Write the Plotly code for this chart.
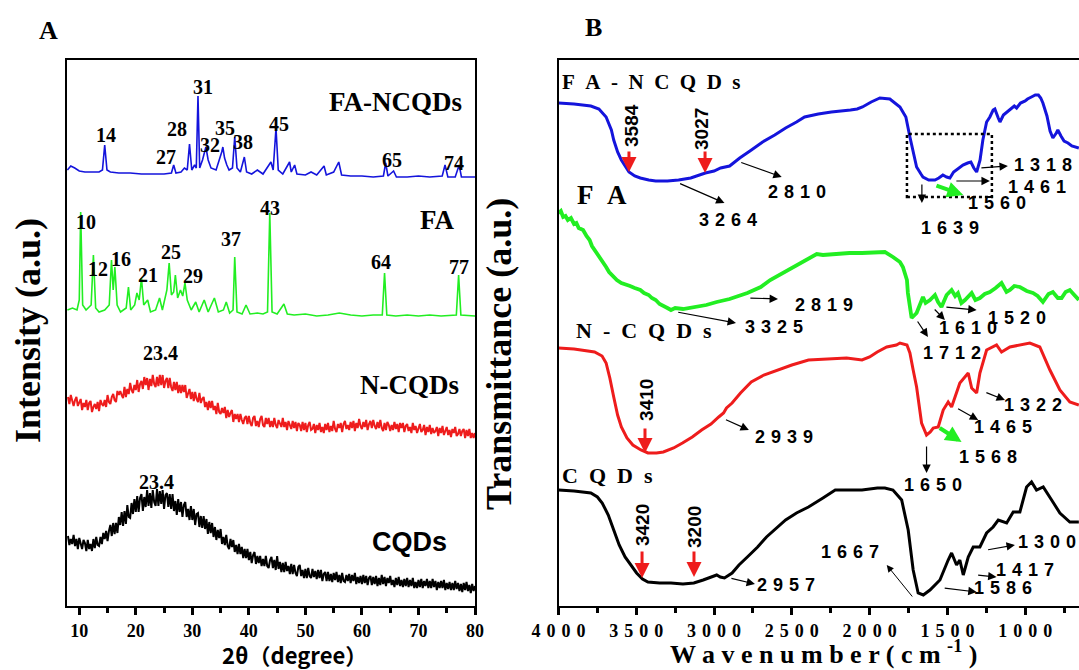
import plotly.graph_objects as go

SERIF = "Liberation Serif, Times New Roman, serif"
SANS = "Liberation Sans, Arial, sans-serif"
CJK = "Noto Sans CJK SC, sans-serif"
BLUE, GREEN, RED, BLACK = "#1414dc", "#22ee22", "#ee1c1c", "#000000"

# ---------------- Panel A : XRD (2theta, intensity a.u., stacked offsets) ----------------
fancqds_2theta = [7.9, 8.5, 9.2, 10, 11, 12, 13.5, 14.1, 14.5, 14.9, 15.5, 17, 19, 21, 23, 25, 26.3, 26.7, 27.1, 28,
                  28.6, 29.1, 29.5, 29.9, 30.4, 30.7, 31.0, 31.3, 31.8, 32.4, 32.8, 33.3, 34.2, 34.8, 35.2, 35.4, 35.7,
                  36.1, 36.5, 37.1, 37.5, 37.9, 38.5, 39.2, 39.6, 40.5, 41.5, 42.5, 43.9, 44.3, 44.8, 45.2, 46, 47.2,
                  47.5, 48.1, 48.5, 50, 51, 52, 53.3, 53.7, 55, 55.9, 56.4, 58, 60, 62, 63.8, 64.2, 64.6, 65.6, 66.1,
                  68, 70, 72, 74.2, 74.7, 75.2, 76.5, 77.2, 77.6, 80]
fancqds_int = [436, 440, 438, 435, 434, 434, 434, 436, 461, 436, 434, 433, 433, 432, 432, 432, 433, 441, 433, 434,
               438, 436, 462, 436, 441, 438, 510, 438, 446, 459, 446, 438, 436, 446, 454, 459, 448,
               441, 436, 438, 469, 438, 434, 449, 434, 432, 436, 432, 444, 436, 478, 436, 432, 444,
               434, 441, 432, 431, 434, 431, 440, 431, 434, 444, 431, 430, 430, 429, 430, 443, 430, 435, 429,
               429, 430, 429, 430, 441, 429, 429, 441, 429, 429]

fa_2theta = [7.9, 8.8, 9.6, 10.0, 10.25, 10.6, 11.2, 12.1, 12.5, 12.9, 13.5, 14.5, 15.3, 15.7, 16.0, 16.3, 16.7, 17.3,
             18.3, 18.7, 19.1, 19.8, 20.2, 20.6, 21.0, 21.4, 22.1, 22.6, 23.5, 24.2, 24.7, 25.5, 25.9, 26.3, 26.7,
             27.0, 27.4, 27.9, 28.3, 28.7, 29.1, 29.8, 30.6, 31.2, 32.1, 32.8, 33.9, 34.6, 35.5, 36.0, 36.6, 37.2,
             37.5, 37.9, 38.8, 39.5, 40.2, 41.5, 42.5, 43.3, 43.7, 44.1, 45, 46.2, 46.8, 48, 50, 52, 54, 56, 58, 60,
             62, 63.6, 64.0, 64.4, 66, 68, 70, 72, 74, 76.7, 77.1, 77.5, 80]
fa_int = [296, 298, 296, 306, 394, 301, 296, 301, 351, 298, 294, 296, 301, 346, 316, 339, 301, 294,
          298, 319, 296, 301, 313, 306, 328, 301, 306, 294, 296, 308, 296, 316, 343, 311, 314,
          331, 308, 316, 310, 323, 306, 296, 304, 294, 306, 294, 308, 294, 296, 304, 293, 296,
          349, 294, 292, 301, 292, 293, 292, 294, 393, 294, 292, 302, 292, 291, 292, 290, 291, 293, 291, 290,
          291, 291, 333, 291, 290, 291, 290, 291, 290, 291, 331, 291, 290]

# amorphous patterns, sampled every 0.25 degree from 8 to 80
amorph_2theta = [8 + 0.25 * i for i in range(289)]
ncqds_int = [209, 202, 211, 204, 200, 206, 209, 200, 203, 207, 196, 203, 199, 206, 196, 203,
             205, 194, 199, 202, 197, 204, 195, 206, 202, 200, 206, 199, 211, 204, 202, 209,
             212, 206, 204, 215, 211, 215, 211, 208, 219, 209, 217, 212, 223, 216, 213, 221,
             216, 226, 214, 222, 225, 217, 229, 221, 228, 216, 227, 220, 231, 222, 219, 229,
             220, 231, 221, 231, 218, 225, 228, 218, 228, 219, 215, 224, 216, 224, 213, 221,
             213, 221, 214, 221, 208, 214, 217, 207, 214, 205, 214, 207, 204, 213, 203, 207,
             209, 199, 204, 196, 205, 198, 205, 196, 200, 192, 203, 194, 192, 198, 193, 199,
             188, 196, 189, 193, 196, 184, 192, 187, 192, 184, 192, 186, 182, 188, 190, 182,
             190, 183, 180, 188, 190, 180, 185, 179, 187, 190, 181, 179, 188, 182, 188, 179,
             185, 179, 188, 181, 178, 186, 183, 179, 188, 179, 184, 176, 185, 180, 177, 185,
             178, 184, 175, 183, 181, 175, 184, 176, 183, 174, 181, 184, 176, 177, 182, 173,
             181, 176, 183, 174, 179, 173, 182, 176, 183, 174, 180, 175, 185, 177, 174, 182,
             178, 183, 174, 182, 185, 177, 181, 176, 184, 178, 185, 175, 183, 178, 187, 180,
             177, 184, 179, 186, 176, 182, 185, 178, 186, 180, 177, 184, 178, 186, 178, 175,
             183, 176, 184, 181, 175, 181, 176, 184, 177, 182, 174, 183, 178, 183, 174, 180,
             182, 175, 179, 173, 183, 176, 180, 173, 179, 182, 174, 176, 181, 171, 179, 174,
             181, 172, 178, 173, 175, 179, 170, 178, 173, 180, 171, 176, 179, 171, 176, 169,
             177, 173, 179, 170, 172, 177, 170, 175, 177, 168, 176, 170, 177, 168, 173, 168, 173]
cqds_int = [70, 61, 67, 62, 71, 60, 67, 57, 68, 61, 57, 66, 63, 55, 66, 57,
            62, 55, 67, 58, 69, 61, 60, 69, 62, 73, 67, 75, 65, 75, 81, 70,
            83, 72, 83, 73, 89, 81, 94, 80, 95, 82, 101, 89, 88, 103, 92, 107,
            94, 110, 94, 108, 112, 95, 109, 99, 116, 100, 113, 98, 116, 104, 100, 117,
            100, 115, 102, 116, 97, 111, 113, 99, 112, 97, 112, 95, 105, 91, 107, 94,
            104, 89, 101, 104, 89, 97, 86, 100, 86, 97, 81, 92, 93, 79, 90, 78,
            90, 77, 87, 72, 84, 73, 83, 69, 79, 66, 76, 68, 77, 62, 69, 61,
            71, 60, 57, 67, 59, 66, 54, 61, 52, 62, 52, 59, 48, 57, 48, 57,
            46, 54, 43, 51, 54, 42, 50, 43, 50, 40, 47, 40, 50, 40, 38, 46,
            49, 38, 46, 36, 50, 37, 44, 34, 43, 34, 44, 35, 40, 32, 42, 32,
            41, 33, 30, 39, 41, 30, 36, 28, 37, 28, 38, 30, 28, 37, 29, 35,
            27, 36, 28, 36, 25, 32, 34, 25, 34, 25, 32, 24, 33, 26, 34, 24,
            31, 23, 33, 25, 24, 31, 25, 32, 23, 31, 25, 33, 22, 29, 23, 30,
            22, 31, 23, 30, 21, 28, 30, 21, 29, 22, 30, 20, 28, 21, 31, 22,
            29, 20, 28, 23, 30, 21, 26, 19, 28, 21, 29, 20, 26, 19, 27, 20,
            28, 19, 26, 20, 28, 18, 24, 18, 26, 19, 27, 18, 25, 20, 27, 18,
            25, 18, 27, 19, 25, 16, 24, 18, 25, 18, 26, 16, 23, 17, 24, 16,
            23, 16, 25, 17, 23, 15, 22, 14, 23, 16, 24, 15, 21, 13, 22, 15, 20]

xrd_ticks = [10, 20, 30, 40, 50, 60, 70, 80]

# ---------------- Panel B : FTIR (wavenumber, transmittance a.u., stacked offsets) ----------------
fancqds_wn = [4000, 3900, 3792, 3740, 3694, 3660, 3645, 3620, 3596, 3570, 3547, 3510, 3474, 3420, 3375, 3300, 3228,
              3150, 3056, 3000, 2970, 2958, 2900, 2835, 2760, 2688, 2610, 2540, 2470, 2418, 2330, 2246, 2123, 2080,
              2046, 1990, 1934, 1870, 1805, 1767, 1741, 1715, 1698, 1670, 1657, 1620, 1580, 1555, 1529, 1505, 1484,
              1460, 1420, 1400, 1370, 1349, 1330, 1312, 1290, 1272, 1248, 1227, 1206, 1195, 1173, 1162, 1140, 1119,
              1100, 1070, 1055, 1030, 1000, 985, 960, 935, 915, 900, 886, 860, 840, 822, 800, 790, 770, 750, 725,
              700, 655]
fancqds_tr = [503, 502, 500, 497, 489, 476, 466, 454, 446, 439, 434, 430, 428, 426, 425, 425, 426,
              428, 433, 435, 437, 438, 440, 448, 456, 464, 471, 478, 484, 489, 492, 494, 496, 497,
              499, 504, 508, 507, 499, 489, 469, 449, 439, 432, 429, 426, 426, 428, 431, 429, 428,
              434, 439, 441, 443, 444, 438, 434, 446, 466, 484, 489, 496, 497, 488, 484, 491, 494,
              496, 500, 498, 503, 505, 507, 509, 511, 511, 508, 503, 490, 475, 468, 473, 476, 470, 465, 463,
              460, 458]

fa_wn = [4000, 3985, 3970, 3955, 3940, 3920, 3900, 3885, 3870, 3842, 3820, 3800, 3785, 3768, 3750, 3730, 3710, 3694,
         3675, 3650, 3625, 3596, 3570, 3540, 3510, 3474, 3450, 3420, 3400, 3375, 3350, 3320, 3300, 3277, 3250, 3200,
         3130, 3050, 2983, 2900, 2786, 2700, 2639, 2560, 2492, 2420, 2369, 2340, 2300, 2221, 2130, 2049, 1950, 1902,
         1850, 1805, 1786, 1760, 1754, 1730, 1698, 1657, 1640, 1612, 1580, 1560, 1538, 1505, 1473, 1450, 1432, 1410,
         1387, 1344, 1320, 1291, 1260, 1227, 1190, 1152, 1120, 1098, 1070, 1034, 990, 950, 920, 886, 850, 822, 790,
         766, 740, 713, 690, 655]
fa_tr = [393, 395, 389, 390, 386, 388, 382, 383, 378, 376, 370, 366, 360, 356, 352, 348, 344, 339,
         334, 330, 326, 323, 322, 320, 318, 316, 313, 311, 308, 306, 302, 300, 298, 296, 298, 297,
         299, 301, 304, 307, 313, 319, 326, 333, 339, 345, 349, 352, 351, 352, 353, 353, 354, 354,
         349, 344, 339, 326, 313, 288, 293, 309, 303, 306, 311, 304, 299, 311, 316, 310, 313, 303,
         306, 313, 306, 308, 312, 314, 318, 323, 314, 316, 320, 319, 315, 313, 310, 304, 312, 314, 308,
         308, 314, 316, 312, 306]

ncqds_wn = [4000, 3900, 3768, 3720, 3694, 3670, 3645, 3620, 3596, 3560, 3522, 3470, 3425, 3370, 3326, 3260, 3203,
            3140, 3080, 3020, 2970, 2939, 2920, 2884, 2830, 2761, 2680, 2589, 2500, 2393, 2300, 2148, 2049, 2000,
            1951, 1890, 1828, 1805, 1760, 1741, 1720, 1698, 1666, 1634, 1610, 1591, 1559, 1527, 1495, 1473, 1420,
            1387, 1366, 1344, 1312, 1291, 1248, 1184, 1152, 1098, 970, 906, 841, 777, 713, 655]
ncqds_tr = [258, 257, 254, 250, 243, 228, 209, 191, 179, 168, 161, 156, 153, 153, 154, 158, 163,
            169, 176, 182, 189, 193, 198, 203, 213, 224, 231, 236, 241, 246, 247, 248, 246, 249,
            254, 259, 261, 263, 261, 253, 236, 219, 183, 171, 174, 178, 179, 196, 204, 199, 223,
            229, 233, 218, 213, 233, 256, 261, 254, 259, 263, 259, 236, 216, 204, 201]

cqds_wn = [4000, 3900, 3792, 3750, 3719, 3680, 3645, 3610, 3572, 3530, 3498, 3460, 3425, 3350, 3277, 3200, 3130,
           3070, 3031, 2983, 2960, 2933, 2884, 2840, 2786, 2720, 2663, 2600, 2540, 2470, 2393, 2300, 2221, 2100,
           2049, 1950, 1902, 1850, 1794, 1752, 1720, 1688, 1655, 1612, 1548, 1495, 1473, 1441, 1420, 1398, 1366,
           1334, 1291, 1248, 1206, 1173, 1119, 1077, 1034, 991, 959, 927, 884, 830, 777, 713, 655]
cqds_tr = [116, 115, 113, 109, 103, 91, 76, 61, 49, 40, 33, 27, 24, 23, 23, 22, 23,
           26, 28, 31, 29, 28, 33, 41, 49, 59, 69, 78, 86, 93, 99, 108, 116, 116,
           116, 118, 118, 116, 106, 76, 36, 13, 11, 16, 26, 46, 53, 41, 46, 31, 49,
           59, 59, 73, 79, 86, 83, 94, 94, 119, 124, 116, 119, 106, 93, 84, 84]

ftir_ticks = [4000, 3500, 3000, 2500, 2000, 1500, 1000]


def spaced(s, sep="\u2004"):
    return sep.join(list(s))


fig = go.Figure()
for xs, ys, c, w in [(fancqds_2theta, fancqds_int, BLUE, 1.6), (fa_2theta, fa_int, GREEN, 1.6),
                     (amorph_2theta, ncqds_int, RED, 2.0), (amorph_2theta, cqds_int, BLACK, 2.0)]:
    fig.add_trace(go.Scatter(x=xs, y=ys, mode="lines", line=dict(color=c, width=w),
                             xaxis="x", yaxis="y", showlegend=False, hoverinfo="skip"))
for xs, ys, c, w in [(fancqds_wn, fancqds_tr, BLUE, 3.0), (fa_wn, fa_tr, GREEN, 3.8),
                     (ncqds_wn, ncqds_tr, RED, 3.0), (cqds_wn, cqds_tr, BLACK, 3.0)]:
    fig.add_trace(go.Scatter(x=xs, y=ys, mode="lines", line=dict(color=c, width=w),
                             xaxis="x2", yaxis="y2", showlegend=False, hoverinfo="skip"))

C = dict(xanchor="center", yanchor="middle")
ann = []
# panel A peak labels
xrd_labels = [("14", 14.8, 471), ("27", 25.4, 449), ("28", 27.2, 477), ("31", 31.95, 519), ("32", 33.15, 461),
              ("35", 35.7, 478), ("38", 38.9, 464), ("45", 45.4, 482), ("65", 65.4, 446), ("74", 76.3, 443),
              ("10", 11.2, 384), ("12", 13.3, 337), ("16", 17.4, 347), ("21", 22.1, 331), ("25", 26.3, 354),
              ("29", 30.1, 330), ("37", 36.9, 367), ("43", 43.7, 398), ("64", 63.3, 344), ("77", 77.1, 339),
              ("23.4", 24.3, 253), ("23.4", 23.6, 124)]
for t, x, y in xrd_labels:
    ann.append(dict(text=t, x=x, y=y, xref="x", yref="y", showarrow=False, **C,
                    font=dict(family=SERIF, size=20, color=BLACK, weight="bold")))
for t, x, y, fam in [("FA-NCQDs", 66.0, 504, SERIF), ("FA", 73.2, 386, SERIF),
                     ("N-CQDs", 68.4, 221, SERIF), ("CQDs", 68.4, 64, SANS)]:
    ann.append(dict(text=t, x=x, y=y, xref="x", yref="y", showarrow=False, **C,
                    font=dict(family=fam, size=27, color=BLACK, weight="bold")))

# panel B series labels
for t, x, y, s in [("FA-NCQDs", 3990, 524, 21), ("FA", 3891, 411, 27),
                   ("N-CQDs", 3903, 276, 22), ("CQDs", 3990, 131, 22)]:
    ann.append(dict(text=spaced(t, "\u2002"), x=x, y=y, xref="x2", yref="y2", xanchor="left", yanchor="middle",
                    showarrow=False, font=dict(family=SERIF, size=s, color=BLACK, weight="bold")))

# panel B band labels
ftir_labels = [("3264", 2911, 386), ("2810", 2467, 414), ("2819", 2295, 301), ("3325", 2615, 279),
               ("1639", 1484, 378), ("1560", 1184, 403), ("1461", 927, 419), ("1318", 884, 441),
               ("1520", 1055, 288), ("1610", 1366, 278), ("1712", 1473, 253), ("2939", 2553, 169),
               ("1650", 1591, 121), ("1568", 1238, 149), ("1465", 1141, 179), ("1322", 948, 201),
               ("2957", 2540, 21), ("1667", 2123, 54), ("1300", 862, 64), ("1417", 1002, 36), ("1586", 1141, 18)]
for t, x, y in ftir_labels:
    ann.append(dict(text=spaced(t), x=x, y=y, xref="x2", yref="y2", showarrow=False, **C,
                    font=dict(family=SANS, size=18, color=BLACK, weight="bold")))
rot_labels = [("3584", 3534, 481), ("3027", 3084, 477), ("3410", 3438, 206), ("3420", 3463, 81), ("3200", 3129, 79)]
for t, x, y in rot_labels:
    ann.append(dict(text=t, x=x, y=y, xref="x2", yref="y2", showarrow=False, textangle=-90, **C,
                    font=dict(family=SANS, size=19, color=BLACK, weight="bold")))

# arrows: (tail x, tail y, head x, head y, color, width, size)
arrows = [
    (3547, 456, 3547, 434, RED, 3, 1.0), (3058, 456, 3058, 433, RED, 3, 1.0),
    (3444, 179, 3444, 153, RED, 3, 1.0), (3463, 56, 3463, 28, RED, 3, 1.0), (3129, 56, 3129, 29, RED, 3, 1.0),
    (3228, 423, 2933, 403, BLACK, 1.2, 1.4), (2835, 444, 2565, 429, BLACK, 1.2, 1.4),
    (1664, 423, 1664, 403, BLACK, 1.2, 1.4), (1452, 425, 1227, 425, BLACK, 1.2, 1.4),
    (1291, 438, 1111, 440, BLACK, 1.2, 1.4), (2776, 308, 2589, 307, BLACK, 1.2, 1.4),
    (3240, 294, 2859, 283, BLACK, 1.2, 1.4), (1516, 299, 1312, 296, BLACK, 1.2, 1.4),
    (1591, 298, 1516, 286, BLACK, 1.2, 1.4), (1698, 286, 1625, 269, BLACK, 1.2, 1.4),
    (2933, 187, 2776, 176, BLACK, 1.2, 1.4), (1634, 161, 1634, 133, BLACK, 1.2, 1.4),
    (1441, 198, 1302, 186, BLACK, 1.2, 1.4), (1259, 214, 1130, 206, BLACK, 1.2, 1.4),
    (2898, 28, 2737, 22, BLACK, 1.2, 1.4), (1718, 8, 1890, 41, BLACK, 1.0, 1.4),
    (1248, 56, 1066, 61, BLACK, 1.2, 1.4), (1312, 31, 1184, 29, BLACK, 1.2, 1.4),
    (1527, 18, 1312, 14, BLACK, 1.2, 1.4),
    (1580, 421, 1398, 411, GREEN, 4, 0.8), (1559, 179, 1409, 164, GREEN, 4, 0.8),
]
for tx, ty, hx, hy, c, w, s in arrows:
    ann.append(dict(text="", x=hx, y=hy, ax=tx, ay=ty, xref="x2", yref="y2", axref="x2", ayref="y2",
                    showarrow=True, arrowhead=2, arrowsize=s, arrowwidth=w, arrowcolor=c, standoff=0))

# titles and panel letters
ann += [
    dict(text="A", x=48 / 1079, y=1 - 30 / 670, xref="paper", yref="paper", showarrow=False, **C,
         font=dict(family=SERIF, size=26, color=BLACK, weight="bold")),
    dict(text="B", x=593 / 1079, y=1 - 28 / 670, xref="paper", yref="paper", showarrow=False, **C,
         font=dict(family=SERIF, size=26, color=BLACK, weight="bold")),
    dict(text="Intensity (a.u.)", x=28 / 1079, y=1 - 331 / 670, xref="paper", yref="paper", showarrow=False,
         textangle=-90, **C, font=dict(family=SERIF, size=36, color=BLACK, weight="bold")),
    dict(text="Transmittance (a.u.)", x=499 / 1079, y=1 - 354 / 670, xref="paper", yref="paper", showarrow=False,
         textangle=-90, **C, font=dict(family=SERIF, size=36, color=BLACK, weight="bold")),
    dict(text="2θ（degree）", x=294 / 1079, y=1 - 654 / 670, xref="paper", yref="paper", showarrow=False, **C,
         font=dict(family=CJK, size=22, color=BLACK, weight="bold")),
    dict(text="W a v e n u m b e r ( c m <sup>-1</sup> )", x=823 / 1079, y=1 - 652 / 670, xref="paper",
         yref="paper", showarrow=False, **C, font=dict(family=SERIF, size=26, color=BLACK, weight="bold")),
]

shapes = [dict(type="rect", x0=1760, x1=1214, y0=409, y1=472, xref="x2", yref="y2",
               line=dict(color=BLACK, width=2.5, dash="dot"))]

ydom = [1 - 606 / 670, 1 - 60 / 670]
axis_common = dict(showline=True, linecolor=BLACK, linewidth=2, showgrid=False, zeroline=False, automargin=False)
fig.update_layout(
    width=1079, height=670, margin=dict(l=0, r=0, t=0, b=0, pad=0, autoexpand=False), autosize=False,
    paper_bgcolor="white", plot_bgcolor="white", showlegend=False,
    xaxis=dict(domain=[67 / 1079, 475 / 1079], range=[7.83, 80], mirror=True, ticks="outside", ticklen=7,
               tickwidth=2.5, tickcolor=BLACK, tickmode="array", tickvals=xrd_ticks,
               ticktext=[str(v) for v in xrd_ticks],
               minor=dict(tickmode="linear", tick0=5, dtick=10, ticks="outside", ticklen=5, tickwidth=2.5,
                          tickcolor=BLACK),
               tickfont=dict(family=SERIF, size=18, color=BLACK, weight="bold"), anchor="y", **axis_common),
    yaxis=dict(domain=ydom, range=[0, 546], mirror=True, showticklabels=False, ticks="", anchor="x",
               **axis_common),
    xaxis2=dict(domain=[558.5 / 1079, 1.0], range=[4000, 654], mirror=True, ticks="outside", ticklen=7,
                tickwidth=2.5, tickcolor=BLACK, tickmode="array", tickvals=ftir_ticks,
                ticktext=[spaced(str(v)) for v in ftir_ticks],
                minor=dict(tickmode="linear", tick0=250, dtick=500, ticks="outside", ticklen=5, tickwidth=2.5,
                           tickcolor=BLACK),
                tickfont=dict(family=SERIF, size=18, color=BLACK, weight="bold"), anchor="y2", **axis_common),
    yaxis2=dict(domain=ydom, range=[0, 546], mirror=False, showticklabels=False, ticks="", anchor="x2",
                **axis_common),
    annotations=ann, shapes=shapes,
)

fig.write_html("out.html", config={"displayModeBar": False},
               post_script="document.body.style.margin='0';document.body.style.overflow='hidden';")
